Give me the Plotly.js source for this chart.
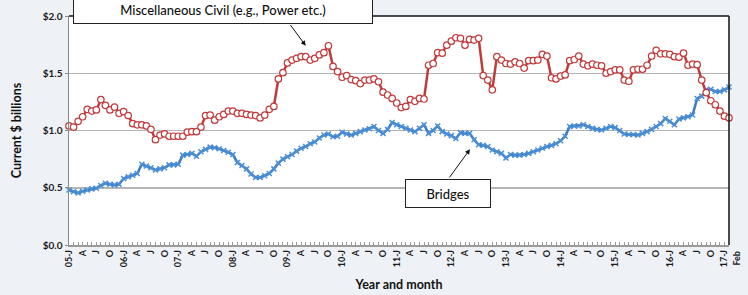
<!DOCTYPE html>
<html>
<head>
<meta charset="utf-8">
<script src="https://cdn.plot.ly/plotly-3.0.1.min.js"></script>
<style>
  html, body { margin: 0; padding: 0; background: #EEF1F6; }
  #chart { width: 748px; height: 295px; }
</style>
</head>
<body>
<div id="chart"></div>
<script>
// Month categories: Jan 2005 .. Feb 2017
const months = [];
for (let y = 2005; y <= 2017; y++) {
  for (let m = 1; m <= 12; m++) {
    if (y === 2017 && m > 2) break;
    months.push(y + '-' + String(m).padStart(2, '0'));
  }
}

// Quarterly tick labels (Jan/Apr/Jul/Oct) plus the final month
const quarterLabels = [
  '05-J','A','J','O','06-J','A','J','O','07-J','A','J','O','08-J','A','J','O',
  '09-J','A','J','O','10-J','A','J','O','11-J','A','J','O','12-J','A','J','O',
  '13-J','A','J','O','14-J','A','J','O','15-J','A','J','O','16-J','A','J','O',
  '17-J'
];
const lastLabel = 'Feb';

// Miscellaneous Civil (e.g., Power etc.), $ billions
const miscCivil = [
  1.04,1.03,1.08,1.12,1.185,1.17,1.18,1.27,1.22,1.18,1.205,1.15,
  1.165,1.13,1.06,1.05,1.05,1.04,1.01,0.92,0.96,0.97,0.95,0.95,
  0.95,0.95,0.985,0.99,0.99,1.03,1.13,1.135,1.09,1.12,1.14,1.17,
  1.17,1.15,1.15,1.14,1.135,1.13,1.11,1.135,1.185,1.21,1.45,1.505,
  1.59,1.615,1.63,1.645,1.645,1.615,1.63,1.66,1.68,1.74,1.56,1.515,
  1.465,1.48,1.445,1.435,1.41,1.44,1.44,1.45,1.425,1.335,1.31,1.28,
  1.24,1.20,1.21,1.27,1.255,1.28,1.275,1.57,1.585,1.68,1.675,1.745,
  1.78,1.81,1.805,1.745,1.795,1.79,1.805,1.48,1.44,1.355,1.645,1.615,
  1.585,1.58,1.60,1.585,1.545,1.61,1.61,1.615,1.665,1.65,1.46,1.45,
  1.475,1.485,1.61,1.62,1.65,1.58,1.565,1.58,1.57,1.565,1.50,1.515,
  1.53,1.53,1.44,1.43,1.53,1.535,1.535,1.57,1.65,1.70,1.67,1.67,
  1.665,1.645,1.64,1.675,1.57,1.58,1.575,1.44,1.33,1.26,1.225,1.17,
  1.125,1.11
];

// Bridges, $ billions
const bridges = [
  0.48,0.465,0.455,0.47,0.48,0.49,0.495,0.52,0.54,0.53,0.525,0.53,
  0.58,0.595,0.61,0.625,0.705,0.69,0.675,0.655,0.665,0.675,0.70,0.70,
  0.705,0.785,0.79,0.80,0.775,0.815,0.835,0.855,0.85,0.84,0.825,0.81,
  0.79,0.72,0.695,0.665,0.62,0.59,0.59,0.605,0.625,0.665,0.715,0.75,
  0.77,0.79,0.82,0.845,0.86,0.885,0.90,0.935,0.96,0.97,0.945,0.95,
  0.985,0.97,0.96,0.975,0.99,1.005,1.015,1.035,1.0,0.975,1.01,1.07,
  1.05,1.035,1.02,1.005,0.99,1.02,1.05,0.975,1.0,1.04,0.99,0.97,
  0.955,0.93,0.98,0.975,0.975,0.92,0.875,0.87,0.86,0.83,0.815,0.80,
  0.76,0.79,0.785,0.785,0.79,0.80,0.815,0.83,0.845,0.86,0.87,0.885,
  0.91,0.95,1.035,1.04,1.04,1.05,1.035,1.02,1.01,1.005,1.02,1.035,
  1.025,1.0,0.97,0.965,0.965,0.96,0.975,0.99,1.01,1.035,1.06,1.105,
  1.08,1.05,1.10,1.11,1.12,1.135,1.28,1.30,1.355,1.36,1.34,1.34,
  1.355,1.38
];

const yTickVals = [0, 0.5, 1.0, 1.5, 2.0];
const yTickText = ['$0.0', '$0.5', '$1.0', '$1.5', '$2.0'];

const tickText = months.map((m, i) => {
  if (i % 3 === 0 && i / 3 < quarterLabels.length) return quarterLabels[i / 3];
  return '';
});

const RED = '#C23B3B';
const BLUE = '#3A7CC4';

const traces = [
  {
    x: months, y: bridges, type: 'scatter', mode: 'lines+markers', name: 'Bridges',
    line: { color: BLUE, width: 2.5 },
    marker: { symbol: 'x-thin', size: 5, color: '#4B8FD6', line: { color: '#4B8FD6', width: 1.5 } },
    cliponaxis: false, hoverinfo: 'skip'
  },
  {
    x: months, y: miscCivil, type: 'scatter', mode: 'lines+markers', name: 'Miscellaneous Civil',
    line: { color: RED, width: 2.5 },
    marker: { symbol: 'circle', size: 6.5, color: '#FFFFFF', line: { color: RED, width: 1.2 } },
    cliponaxis: false, hoverinfo: 'skip'
  }
];

const L = 69, R = 729, T = 16, B = 245;
const W = 748, H = 295;

const layout = {
  width: W, height: H,
  margin: { l: L, r: W - R, t: T, b: H - B, pad: 0 },
  paper_bgcolor: '#EEF1F6',
  plot_bgcolor: '#FFFFFF',
  showlegend: false,
  font: { family: 'Lato, "Open Sans", sans-serif', color: '#1a1a1a' },
  xaxis: {
    type: 'category',
    range: [0, months.length - 1],
    tickmode: 'array',
    tickvals: months,
    ticktext: tickText,
    tickangle: -90,
    ticks: 'inside', ticklen: 3, tickcolor: '#9a9a9a', tickwidth: 1,
    tickfont: { size: 9, family: 'Lato, sans-serif', color: '#1a1a1a', weight: 'bold' },
    showgrid: false, zeroline: false,
    showline: true, linecolor: '#9a9a9a', linewidth: 1.5,
    title: { text: '<b>Year and month</b>', font: { size: 12.5, color: '#111' }, standoff: 14 },
    fixedrange: true
  },
  yaxis: {
    range: [0, 2.0],
    tickmode: 'array',
    tickvals: yTickVals,
    ticktext: yTickText,
    ticks: 'outside', ticklen: 3, tickcolor: '#888', tickwidth: 1,
    tickfont: { size: 10, family: 'Lato, sans-serif', color: '#1a1a1a', weight: 'bold' },
    showgrid: true, gridcolor: '#B5B5B5', gridwidth: 1.5,
    zeroline: false,
    showline: true, linecolor: '#8a8a8a', linewidth: 1.5,
    title: { text: '<b>Current $ billions</b>', font: { size: 12.5, color: '#111' }, standoff: 18 },
    fixedrange: true
  },
  shapes: [
    { type: 'line', xref: 'paper', yref: 'paper', x0: 0, x1: 1, y0: 1, y1: 1,
      line: { color: '#111', width: 1.5 } },
    { type: 'line', xref: 'paper', yref: 'paper', x0: 1, x1: 1, y0: 0, y1: 1,
      line: { color: '#111', width: 1.5 } }
  ],
  annotations: [
    {
      xref: 'paper', yref: 'paper',
      x: (737 - L) / (R - L), y: -0.018,
      xanchor: 'center', yanchor: 'top',
      text: '<b>' + lastLabel + '</b>', textangle: -90,
      font: { size: 9, color: '#1a1a1a', family: 'Lato, sans-serif' },
      showarrow: false
    },
    {
      xref: 'paper', yref: 'paper',
      x: (222.5 - L) / (R - L), y: (B - 9) / (B - T),
      xanchor: 'center', yanchor: 'middle',
      text: 'Miscellaneous Civil (e.g., Power etc.)',
      font: { size: 13, color: '#111', family: 'Lato, sans-serif', weight: 500 },
      showarrow: false,
      bgcolor: '#FFFFFF', bordercolor: '#222', borderwidth: 1,
      width: 298, height: 27, borderpad: 0
    },
    {
      xref: 'paper', yref: 'paper',
      x: (305.7 - L) / (R - L), y: (B - 45.7) / (B - T),
      text: '', showarrow: true,
      arrowhead: 2, arrowsize: 1, arrowwidth: 1, arrowcolor: '#111',
      ax: 289.3 - 305.7, ay: 23.5 - 45.7, standoff: 0, startstandoff: 0
    },
    {
      xref: 'paper', yref: 'paper',
      x: (447.5 - L) / (R - L), y: (B - 193.8) / (B - T),
      xanchor: 'center', yanchor: 'middle',
      text: 'Bridges',
      font: { size: 13, color: '#111', family: 'Lato, sans-serif', weight: 500 },
      showarrow: false,
      bgcolor: '#FFFFFF', bordercolor: '#222', borderwidth: 1,
      width: 84, height: 27, borderpad: 0
    },
    {
      xref: 'paper', yref: 'paper',
      x: (470 - L) / (R - L), y: (B - 149.3) / (B - T),
      text: '', showarrow: true,
      arrowhead: 2, arrowsize: 1, arrowwidth: 1, arrowcolor: '#111',
      ax: 448.3 - 470, ay: 179 - 149.3, standoff: 0, startstandoff: 0
    }
  ]
};

Plotly.newPlot('chart', traces, layout, { displayModeBar: false, staticPlot: true });
</script>
</body>
</html>
